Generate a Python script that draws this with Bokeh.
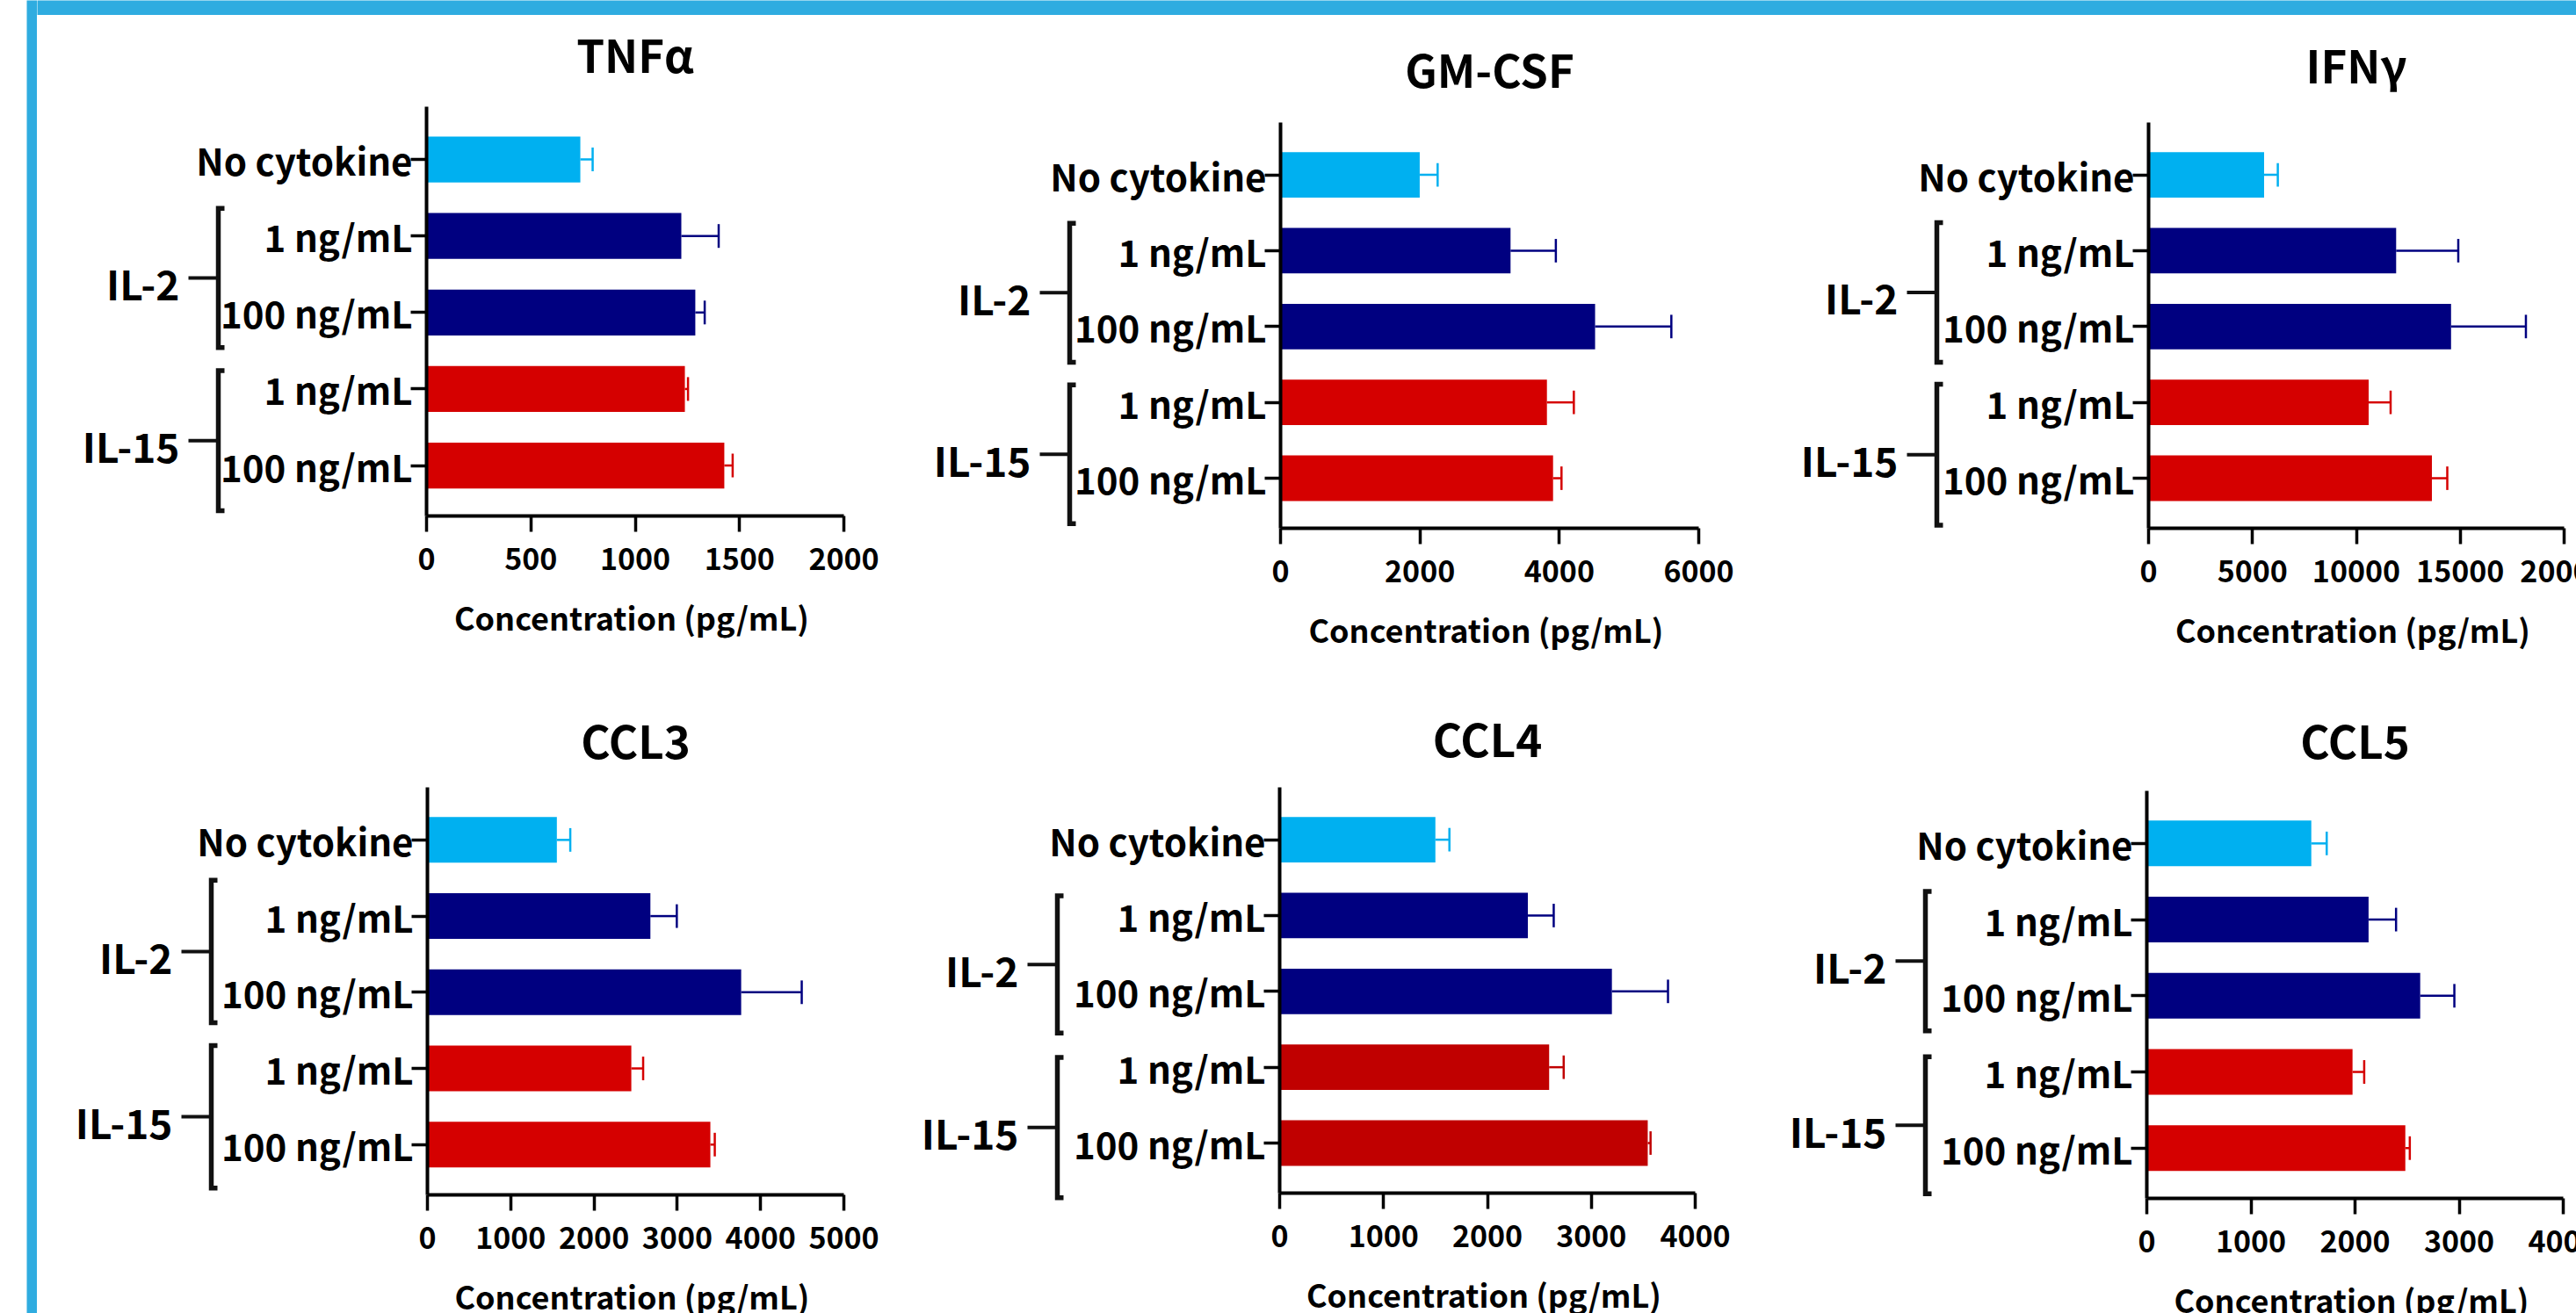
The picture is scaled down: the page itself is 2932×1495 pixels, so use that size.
from bokeh.plotting import figure
from bokeh.models import Range1d, FixedTicker, Spacer, BasicTickFormatter
from bokeh.layouts import row, column
from bokeh.embed import file_html
from bokeh.resources import INLINE
from bokeh.core.properties import value

FONT = "Noto Sans CJK SC"

# ---------------- data ----------------
categories = ["No cytokine", "1 ng/mL", "100 ng/mL", "1 ng/mL", "100 ng/mL"]
groups = ["IL-2", "IL-15"]
group_members = [[1, 2], [3, 4]]
x_title = "Concentration  (pg/mL)"

panel_titles = ["TNFα", "GM-CSF", "IFNγ", "CCL3", "CCL4", "CCL5"]

tnfa_mean = [737, 1221, 1288, 1238, 1427]
tnfa_sem = [59, 179, 45, 15, 40]
gmcsf_mean = [1997, 3300, 4513, 3822, 3910]
gmcsf_sem = [257, 650, 1094, 386, 121]
ifng_mean = [5560, 11915, 14558, 10592, 13636]
ifng_sem = [660, 2990, 3602, 1057, 740]
ccl3_mean = [1554, 2677, 3767, 2448, 3397]
ccl3_sem = [161, 317, 727, 142, 53]
ccl4_mean = [1499, 2389, 3198, 2594, 3543]
ccl4_sem = [135, 249, 540, 140, 27]
ccl5_mean = [1580, 2130, 2626, 1976, 2483]
ccl5_sem = [148, 264, 328, 112, 43]

x_max = [2000, 6000, 20000, 5000, 4000, 4000]
x_step = [500, 2000, 5000, 1000, 1000, 1000]

means = [tnfa_mean, gmcsf_mean, ifng_mean, ccl3_mean, ccl4_mean, ccl5_mean]
sems = [tnfa_sem, gmcsf_sem, ifng_sem, ccl3_sem, ccl4_sem, ccl5_sem]

LIGHT = "#00B0F0"
NAVY = "#000080"
RED = "#D50000"
DARKRED = "#C00000"
bar_colors = [
    [LIGHT, NAVY, NAVY, RED, RED],
    [LIGHT, NAVY, NAVY, RED, RED],
    [LIGHT, NAVY, NAVY, RED, RED],
    [LIGHT, NAVY, NAVY, RED, RED],
    [LIGHT, NAVY, NAVY, DARKRED, DARKRED],
    [LIGHT, NAVY, NAVY, RED, RED],
]
FRAME_BLUE = "#2FACE0"

# ---------------- layout (page pixels, page margin is 0) ----------------
PAGE_W, PAGE_H = 2932, 1495
STRIPE_X0, STRIPE_X1 = 30, 42
BAND_H = 17
RIGHT_BLEED = 60   # right-hand panels run past the window edge (clipped), like the source crop
# col_left, col_right, axis_x(0), axis_x(max), axis_top, axis_bottom, bracket_x, title_baseline
geom = [
    (42, 1040, 485, 960, 121, 587, 248, 76),
    (1040, 2020, 1457, 1933, 139, 601, 1217, 93),
    (2020, PAGE_W + RIGHT_BLEED, 2445, 2918, 139, 601, 2204, 88),
    (42, 1030, 486, 960, 896, 1360, 240, 857),
    (1030, 2020, 1456, 1929, 896, 1358, 1203, 855),
    (2020, PAGE_W + RIGHT_BLEED, 2443, 2917, 900, 1364, 2191, 857),
]
row_span = [(BAND_H, 760)] * 3 + [(760, PAGE_H)] * 3
bracket_off = [
    [(-0.36, 0.46), (-0.24, 0.59)],
    [(-0.36, 0.47), (-0.23, 0.60)],
    [(-0.37, 0.47), (-0.24, 0.62)],
    [(-0.47, 0.40), (-0.30, 0.57)],
    [(-0.26, 0.55), (-0.13, 0.72)],
    [(-0.37, 0.46), (-0.20, 0.60)],
]
Y_TOP, Y_BOTTOM = -0.69, 4.66
BAR_H = 0.6
CAP = 0.155
XLABEL_DROP = 140            # px from x-axis line to axis-title baseline
TITLE_FIX = 16               # empirical baseline correction (px) for panel titles
XLABEL_FIX = 26              # empirical baseline correction (px) for axis titles
GROUP_FIX = 11               # empirical baseline correction (px) for group labels
GROUP_FS, CAT_FS, TITLE_FS, TICK_FS, XLABEL_FS = 46, 42, 51, 34, 36


def make_panel(k):
    col_left, col_right, fl, fr, ft, fb, bx_page, title_base = geom[k]
    r0, r1 = row_span[k]
    xm = x_max[k]
    slot = (fb - ft) / (Y_BOTTOM - Y_TOP)

    def px2x(px):
        return (px - fl) / (fr - fl) * xm

    def py2y(py):
        return Y_TOP + (py - ft) / slot

    pos = list(range(len(categories)))
    p = figure(width=col_right - col_left, height=r1 - r0, title=None,
               x_range=Range1d(px2x(col_left), px2x(col_right)),
               y_range=Range1d(start=py2y(r1), end=py2y(r0)),
               output_backend="svg", toolbar_location=None, min_border=0)
    p.outline_line_color = None
    p.grid.visible = False
    p.background_fill_color = "white"
    p.border_fill_color = "white"

    # bars + error bars
    mean = means[k]
    upper = [a + e for a, e in zip(mean, sems[k])]
    cols = bar_colors[k]
    p.hbar(y=pos, left=0, right=mean, height=BAR_H, fill_color=cols, line_color=None)
    p.segment(x0=mean, x1=upper, y0=pos, y1=pos, line_color=cols, line_width=2.5)
    p.segment(x0=upper, x1=upper, y0=[q - CAP for q in pos], y1=[q + CAP for q in pos],
              line_color=cols, line_width=2.5)

    # group brackets
    bx = px2x(bx_page)
    hook = px2x(bx_page + 7)
    tick0 = px2x(bx_page - 34)
    labx = px2x(bx_page - 44)
    xs, ys, mids = [], [], []
    for gi, members in enumerate(group_members):
        top = members[0] + bracket_off[k][gi][0]
        bot = members[-1] + bracket_off[k][gi][1]
        xs.append([hook, bx, bx, hook])
        ys.append([top, top, bot, bot])
        mids.append((top + bot) / 2)
    p.multi_line(xs, ys, line_color="#111111", line_width=5.5, line_join="miter")
    p.segment(x0=[tick0] * len(mids), x1=[bx] * len(mids), y0=mids, y1=mids,
              line_color="#111111", line_width=4)
    cap_half = 0.36 * GROUP_FS
    p.text(x=[labx] * len(mids), y=[m + (cap_half - GROUP_FIX) / slot for m in mids],
           text=groups, text_align="right", text_baseline="alphabetic",
           text_font=value(FONT), text_font_style="bold",
           text_font_size=f"{GROUP_FS}px", text_color="black")

    # panel title
    p.text(x=[xm / 2], y=[py2y(title_base - TITLE_FIX)], text=[panel_titles[k]],
           text_align="center", text_baseline="alphabetic", text_font=value(FONT),
           text_font_style="bold", text_font_size=f"{TITLE_FS}px", text_color="black")

    # x-axis title
    p.text(x=[xm / 2], y=[py2y(fb + XLABEL_DROP - XLABEL_FIX)], text=[x_title],
           text_align="center", text_baseline="alphabetic", text_font=value(FONT),
           text_font_style="bold", text_font_size=f"{XLABEL_FS}px", text_color="black")

    # y axis (categories)
    ya = p.yaxis[0]
    ya.fixed_location = 0
    ya.bounds = (Y_TOP, Y_BOTTOM)
    ya.ticker = FixedTicker(ticks=pos)
    ya.major_label_overrides = {q: c for q, c in zip(pos, categories)}
    ya.major_label_text_font = FONT
    ya.major_label_text_font_size = f"{CAT_FS}px"
    ya.major_label_text_font_style = "bold"
    ya.major_label_text_color = "black"
    ya.major_label_standoff = -2
    ya.major_tick_out = 18
    ya.major_tick_in = 0
    ya.major_tick_line_width = 3.5
    ya.major_tick_line_color = "black"
    ya.minor_tick_line_color = None
    ya.axis_line_width = 4
    ya.axis_line_color = "black"

    # x axis (concentration)
    xa = p.xaxis[0]
    xa.fixed_location = Y_BOTTOM
    xa.bounds = (0, xm)
    xa.ticker = FixedTicker(ticks=list(range(0, xm + 1, x_step[k])))
    xa.formatter = BasicTickFormatter(use_scientific=False)
    xa.major_label_text_font = FONT
    xa.major_label_text_font_size = f"{TICK_FS}px"
    xa.major_label_text_font_style = "bold"
    xa.major_label_text_color = "black"
    xa.major_label_standoff = 18
    xa.major_tick_out = 18
    xa.major_tick_in = 0
    xa.major_tick_line_width = 3.5
    xa.major_tick_line_color = "black"
    xa.minor_tick_line_color = None
    xa.axis_line_width = 4
    xa.axis_line_color = "black"
    return p


panels = [make_panel(k) for k in range(6)]
row1 = row(*panels[:3])
row2 = row(*panels[3:])

band = figure(width=PAGE_W + RIGHT_BLEED - STRIPE_X1, height=BAND_H, output_backend="svg",
              toolbar_location=None, x_axis_type=None, y_axis_type=None, min_border=0)
band.background_fill_color = FRAME_BLUE
band.border_fill_color = FRAME_BLUE
band.outline_line_color = None

stripe = figure(width=STRIPE_X1 - STRIPE_X0, height=PAGE_H, output_backend="svg",
                toolbar_location=None, x_axis_type=None, y_axis_type=None, min_border=0)
stripe.background_fill_color = FRAME_BLUE
stripe.border_fill_color = FRAME_BLUE
stripe.outline_line_color = None

root = row(Spacer(width=STRIPE_X0, height=PAGE_H), stripe, column(band, row1, row2),
           width=PAGE_W, height=PAGE_H, styles={"overflow": "hidden"})

open("out.html", "w").write(file_html(root, INLINE))
